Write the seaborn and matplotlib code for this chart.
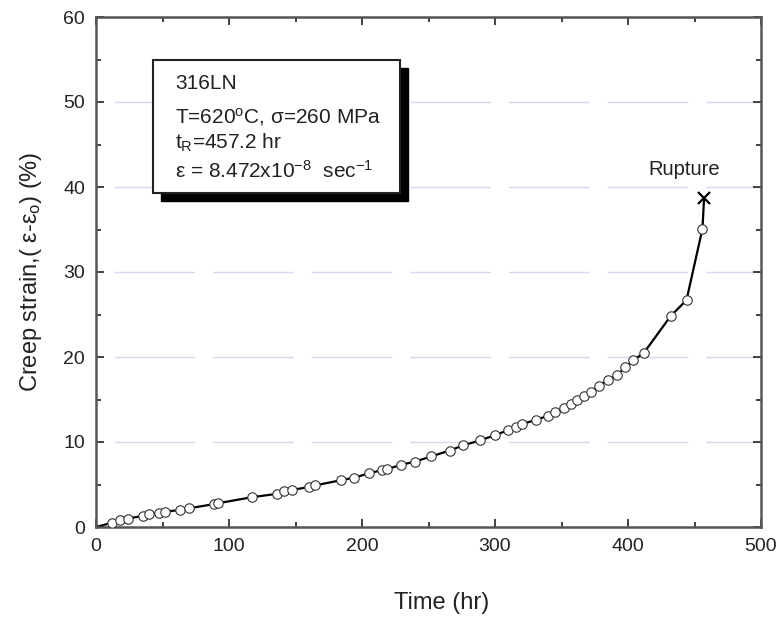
import matplotlib
matplotlib.use("Agg")
import matplotlib.pyplot as plt
from matplotlib.patches import Rectangle
from matplotlib.ticker import MultipleLocator
import seaborn as sns
import pandas as pd

# ---- data ----
time_hr = [12, 18, 24, 35, 40, 47, 52, 63, 70, 89, 92, 117, 136, 141, 147, 160, 165,
           184, 194, 205, 215, 219, 229, 240, 252, 266, 276, 289, 300, 310, 316, 320,
           331, 340, 345, 352, 357, 362, 367, 372, 378, 385, 392, 398, 404, 412, 432,
           444, 456]
strain_pct = [0.5, 0.8, 1.0, 1.3, 1.5, 1.6, 1.8, 2.0, 2.2, 2.7, 2.8, 3.5, 3.9, 4.2, 4.35,
              4.7, 4.9, 5.5, 5.8, 6.3, 6.7, 6.8, 7.3, 7.7, 8.3, 9.0, 9.6, 10.2, 10.8,
              11.4, 11.8, 12.1, 12.6, 13.1, 13.5, 14.0, 14.5, 15.0, 15.4, 15.9, 16.6,
              17.3, 17.9, 18.8, 19.6, 20.5, 24.8, 26.7, 35.1]
start_time, start_strain = 0.0, 0.0
rupture_time, rupture_strain = 457.2, 38.7
grid_levels = [10, 20, 30, 40, 50]
x_ticks = [0, 100, 200, 300, 400, 500]
y_ticks = [0, 10, 20, 30, 40, 50, 60]

info_lines = [
    "316LN",
    r"T=620$\mathregular{^o}$C, σ=260 MPa",
    r"t$\mathregular{_R}$=457.2 hr",
    r"ε = 8.472x10$\mathregular{^{-8}}$  sec$\mathregular{^{-1}}$",
]

pts = pd.DataFrame({"t": time_hr, "e": strain_pct})
curve = pd.DataFrame({"t": [start_time] + time_hr + [rupture_time],
                      "e": [start_strain] + strain_pct + [rupture_strain]})

sns.set_style("ticks")
plt.rcParams["font.family"] = ["Liberation Sans", "DejaVu Sans"]
plt.rcParams["mathtext.fontset"] = "custom"
plt.rcParams["mathtext.rm"] = "Liberation Sans"
plt.rcParams["mathtext.it"] = "Liberation Sans:italic"

fig = plt.figure(figsize=(7.8, 6.19), dpi=100)
ax = fig.add_axes([96/780, 1-527/619, (761-96)/780, (527-17)/619])

for g in grid_levels:
    ax.axhline(g, color="#d6d7f4", lw=1.0, linestyle=(58, (58, 13)), zorder=0)

sns.lineplot(data=curve, x="t", y="e", ax=ax, color="black", lw=1.6,
             estimator=None, sort=False, zorder=2)
sns.scatterplot(data=pts, x="t", y="e", ax=ax, marker="o", s=46,
                facecolor="white", edgecolor="#333333", linewidth=0.8, zorder=3)
ax.plot([rupture_time], [rupture_strain], marker="x", color="black",
        markersize=8, mew=1.6, ls="none", zorder=4)
ax.text(rupture_time - 15, rupture_strain + 3.4, "Rupture", fontsize=14.5,
        ha="center", va="center", color="#222222")

ax.set_xlim(0, 500)
ax.set_ylim(0, 60)
ax.set_xticks(x_ticks)
ax.set_yticks(y_ticks)
ax.xaxis.set_minor_locator(MultipleLocator(50))
ax.yaxis.set_minor_locator(MultipleLocator(5))
ax.tick_params(which="both", direction="in", top=True, right=True,
               color="#333333", width=1.3)
ax.tick_params(which="major", length=6, labelsize=14, pad=8, labelcolor="#222222")
ax.tick_params(which="minor", length=3.5)
for s in ax.spines.values():
    s.set_color("#555555")
    s.set_linewidth(1.8)

ax.set_xlabel("Time (hr)", fontsize=17, color="#222222")
ax.xaxis.label.set_va("center")
ax.xaxis.set_label_coords(0.52, -0.15)
ax.set_ylabel(r"Creep strain,( ε-ε$\mathregular{_o}$) (%)", fontsize=17,
              labelpad=14, color="#222222")

# info box with drop shadow
bx0, bx1, by0, by1 = 43, 228.6, 39.3, 54.9
ax.add_patch(Rectangle((bx0 + 6, by0 - 0.95), bx1 - bx0, by1 - by0,
                       facecolor="black", edgecolor="black", lw=1, zorder=5))
ax.add_patch(Rectangle((bx0, by0), bx1 - bx0, by1 - by0,
                       facecolor="white", edgecolor="#222222", lw=1.5, zorder=6))
for txt, yy in zip(info_lines, [52.2, 48.2, 45.2, 41.9]):
    ax.text(59.4, yy, txt, fontsize=15, ha="left", va="center", zorder=7,
            color="#222222")

fig.savefig("out.png", dpi=100)
